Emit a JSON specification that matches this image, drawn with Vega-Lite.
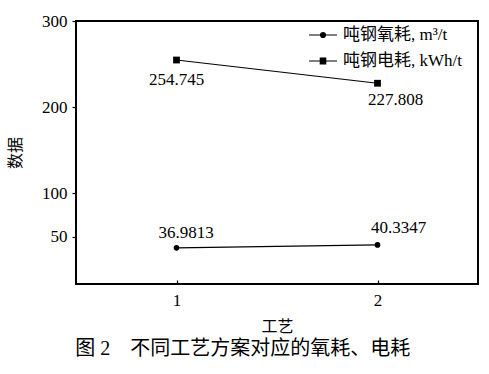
{
  "$schema": "https://vega.github.io/schema/vega-lite/v6.json",
  "width": 402,
  "height": 263,
  "autosize": {"type": "none"},
  "padding": {"left": 76, "top": 21, "right": 11, "bottom": 90},
  "background": "white",
  "title": {
    "text": "图 2　不同工艺方案对应的氧耗、电耗",
    "orient": "bottom",
    "anchor": "middle",
    "frame": "bounds",
    "font": "Liberation Serif, Noto Sans CJK SC",
    "fontSize": 20,
    "fontWeight": "normal",
    "color": "black",
    "offset": 5
  },
  "config": {
    "view": {"stroke": "black", "strokeWidth": 2},
    "axis": {
      "domain": false,
      "grid": false,
      "tickColor": "black",
      "tickWidth": 1.2,
      "labelColor": "black",
      "labelFont": "Liberation Serif",
      "labelFontSize": 17,
      "titleColor": "black",
      "titleFont": "Noto Sans CJK SC",
      "titleFontSize": 16,
      "titleFontWeight": "normal"
    }
  },
  "data": {
    "values": [
      {"craft": 1, "series": "吨钢氧耗, m³/t", "value": 36.9813},
      {"craft": 2, "series": "吨钢氧耗, m³/t", "value": 40.3347},
      {"craft": 1, "series": "吨钢电耗, kWh/t", "value": 254.745},
      {"craft": 2, "series": "吨钢电耗, kWh/t", "value": 227.808}
    ]
  },
  "encoding": {
    "x": {
      "field": "craft",
      "type": "quantitative",
      "scale": {"domain": [0.5, 2.5], "nice": false, "zero": false},
      "axis": {"values": [1, 2], "format": "d", "tickSize": -4, "labelPadding": 12, "title": "工艺", "titlePadding": 10}
    },
    "y": {
      "field": "value",
      "type": "quantitative",
      "scale": {"domain": [-5, 300], "nice": false, "zero": false},
      "axis": {"values": [50, 100, 200, 300], "tickSize": 4, "labelPadding": 5, "title": "数据", "titlePadding": 18}
    }
  },
  "layer": [
    {
      "mark": {"type": "line", "color": "black", "strokeWidth": 1.2},
      "encoding": {"detail": {"field": "series"}}
    },
    {
      "mark": {"type": "point", "filled": false, "color": "black", "opacity": 0, "size": 400},
      "encoding": {
        "shape": {
          "field": "series",
          "type": "nominal",
          "scale": {
            "domain": ["吨钢氧耗, m³/t", "吨钢电耗, kWh/t"],
            "range": [
              "M-1.4,0H1.4M-0.25,0A0.25,0.25 0 1,0 0.25,0A0.25,0.25 0 1,0 -0.25,0M-0.15,0A0.15,0.15 0 1,0 0.15,0A0.15,0.15 0 1,0 -0.15,0M-0.06,0A0.06,0.06 0 1,0 0.06,0A0.06,0.06 0 1,0 -0.06,0",
              "M-1.4,0H1.4M-0.33,-0.3H0.33M-0.33,-0.2H0.33M-0.33,-0.1H0.33M-0.33,0.1H0.33M-0.33,0.2H0.33M-0.33,0.3H0.33"
            ]
          },
          "legend": {
            "title": null,
            "orient": "none",
            "legendX": 236,
            "legendY": 3,
            "symbolSize": 400,
            "symbolOpacity": 1,
            "symbolFillColor": "black",
            "symbolStrokeColor": "black",
            "symbolStrokeWidth": 1.2,
            "labelOffset": 9,
            "rowPadding": 7,
            "labelFont": "Liberation Serif, Noto Sans CJK SC",
            "labelFontSize": 17,
            "labelColor": "black"
          }
        }
      }
    },
    {
      "transform": [{"filter": "datum.value < 100"}],
      "mark": {"type": "point", "filled": true, "color": "black", "opacity": 1, "size": 32, "shape": "circle"}
    },
    {
      "transform": [{"filter": "datum.value > 100"}],
      "mark": {"type": "point", "filled": true, "color": "black", "opacity": 1, "size": 46, "shape": "square"}
    },
    {
      "transform": [{"filter": "datum.value === 254.745"}],
      "mark": {"type": "text", "font": "Liberation Serif", "fontSize": 17, "color": "black", "baseline": "middle", "dx": 0, "dy": 20},
      "encoding": {"text": {"field": "value", "type": "nominal"}}
    },
    {
      "transform": [{"filter": "datum.value === 227.808"}],
      "mark": {"type": "text", "font": "Liberation Serif", "fontSize": 17, "color": "black", "baseline": "middle", "dx": 18, "dy": 17},
      "encoding": {"text": {"field": "value", "type": "nominal"}}
    },
    {
      "transform": [{"filter": "datum.value === 36.9813"}],
      "mark": {"type": "text", "font": "Liberation Serif", "fontSize": 17, "color": "black", "baseline": "middle", "dx": 9.5, "dy": -15},
      "encoding": {"text": {"field": "value", "type": "nominal"}}
    },
    {
      "transform": [{"filter": "datum.value === 40.3347"}],
      "mark": {"type": "text", "font": "Liberation Serif", "fontSize": 17, "color": "black", "baseline": "middle", "dx": 21, "dy": -17},
      "encoding": {"text": {"field": "value", "type": "nominal"}}
    }
  ]
}
